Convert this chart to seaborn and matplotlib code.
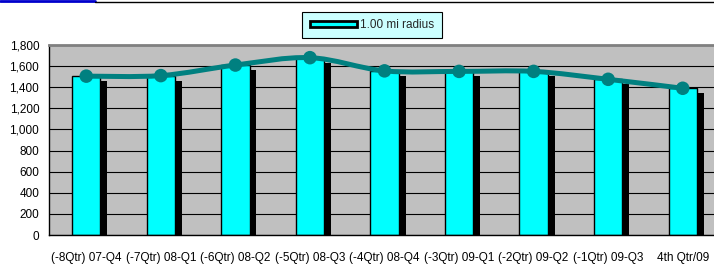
import numpy as np
import pandas as pd
import matplotlib.pyplot as plt
import matplotlib.patheffects as pe
from matplotlib.path import Path
from matplotlib.patches import PathPatch, Rectangle
from matplotlib.lines import Line2D
import seaborn as sns

quarters = ["(-8Qtr) 07-Q4", "(-7Qtr) 08-Q1", "(-6Qtr) 08-Q2", "(-5Qtr) 08-Q3",
            "(-4Qtr) 08-Q4", "(-3Qtr) 09-Q1", "(-2Qtr) 09-Q2", "(-1Qtr) 09-Q3",
            "4th Qtr/09"]
counts = [1505, 1510, 1610, 1680, 1555, 1550, 1550, 1475, 1390]
series_name = "1.00 mi radius"
y_ticks = list(range(0, 1801, 200))

sns.set_style("white")
plt.rcParams["font.family"] = ["Liberation Sans", "DejaVu Sans"]

fig = plt.figure(figsize=(7.14, 2.75), dpi=100)
ax = fig.add_axes([49 / 714, 40 / 275, 671 / 714, 190 / 275])
ax.set_facecolor("#C0C0C0")

df = pd.DataFrame({"quarter": quarters, "count": counts})

# bars with hard black drop shadow
sns.barplot(data=df, x="quarter", y="count", color="#00FFFF", saturation=1,
            edgecolor="black", linewidth=1, width=0.38, ax=ax, zorder=2)
for bar in ax.patches:
    bar.set_path_effects([pe.SimplePatchShadow(offset=(5, -3.6), shadow_rgbFace="black", alpha=1),
                          pe.Normal()])

# smoothed line (excel style bezier through the points)
xs = np.arange(len(counts), dtype=float)
ys = np.array(counts, dtype=float)
px = np.r_[xs[0], xs, xs[-1]]
py = np.r_[ys[0], ys, ys[-1]]
verts = [(xs[0], ys[0])]
codes = [Path.MOVETO]
for i in range(len(xs) - 1):
    p0 = np.array([px[i], py[i]])
    p1 = np.array([px[i + 1], py[i + 1]])
    p2 = np.array([px[i + 2], py[i + 2]])
    p3 = np.array([px[i + 3], py[i + 3]])
    verts += [tuple(p1 + (p2 - p0) / 6), tuple(p2 - (p3 - p1) / 6), tuple(p2)]
    codes += [Path.CURVE4] * 3
ax.add_patch(PathPatch(Path(verts, codes), facecolor="none", edgecolor="#008080",
                       lw=3.6, capstyle="round", zorder=4))
sns.scatterplot(x=xs, y=ys, color="#008080", s=95, edgecolor="none", ax=ax, zorder=5)

ax.set_xlim(-0.5, len(quarters) - 0.5)
ax.set_ylim(0, 1800)
ax.set_yticks(y_ticks)
ax.set_yticklabels([f"{v:,}" for v in y_ticks])
ax.set_xticks(range(len(quarters)))
ax.set_xticklabels(quarters)
ax.set_xticks(np.arange(-0.5, len(quarters) - 0.5, 1), minor=True)
ax.set_xlabel("")
ax.set_ylabel("")
ax.tick_params(axis="x", which="major", length=0, pad=12, labelsize=8.5, colors="black")
ax.tick_params(axis="x", which="minor", length=4, width=1, direction="out", color="black")
ax.tick_params(axis="y", length=4, width=1, direction="out", pad=3, labelsize=8.5, colors="black")

ax.yaxis.grid(True, color="black", lw=0.8)
ax.set_axisbelow(True)
for side in ["left", "bottom"]:
    ax.spines[side].set_color("black")
    ax.spines[side].set_linewidth(1)
for side in ["top", "right"]:
    ax.spines[side].set_color("#808080")
    ax.spines[side].set_linewidth(2)

handle = Rectangle((0, 0), 1, 1, facecolor="#00FFFF", edgecolor="black", lw=2)
leg = fig.legend([handle], [series_name], loc="center", bbox_to_anchor=(372 / 714, 250 / 275),
                 frameon=True, fancybox=False, edgecolor="black", facecolor="#CCFFFF",
                 framealpha=1, handlelength=4, handleheight=0.4, handletextpad=0.3,
                 fontsize=8.5, borderpad=0.6)
leg.get_frame().set_linewidth(0.8)

fig.add_artist(Line2D([0, 95 / 714], [1 - 1 / 275] * 2, color="#0000CC", lw=2, transform=fig.transFigure))
fig.add_artist(Line2D([95 / 714, 1], [1 - 2 / 275] * 2, color="black", lw=1, transform=fig.transFigure))

fig.savefig("out.png", dpi=100)
